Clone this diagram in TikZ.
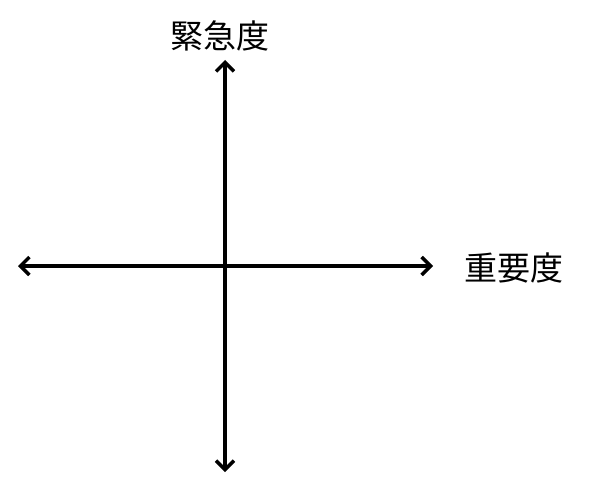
\documentclass[tikz,border=0pt]{standalone}
\usepackage{fontspec}
\newfontfamily\cjk{Noto Sans CJK JP}
\usetikzlibrary{arrows.meta}
\begin{document}
\begin{tikzpicture}[x=1pt,y=-1pt,
  axis/.style={line width=3.2pt,{Straight Barb[length=9pt,width=18pt,line width=3.4pt]}-{Straight Barb[length=9pt,width=18pt,line width=3.4pt]}},
  lbl/.style={font=\cjk\fontsize{33pt}{38pt}\selectfont,inner sep=0pt}]
\useasboundingbox (0,0) rectangle (593,492);
\coordinate (top) at (225,60);
\coordinate (bottom) at (225,472);
\coordinate (left) at (18,266);
\coordinate (right) at (433,266);
\draw[axis] (left) -- (right);
\draw[axis] (bottom) -- (top);
\node[lbl] (urg) at (220,36) {緊急度};
\node[lbl] (imp) at (514,268) {重要度};
\end{tikzpicture}
\end{document}
